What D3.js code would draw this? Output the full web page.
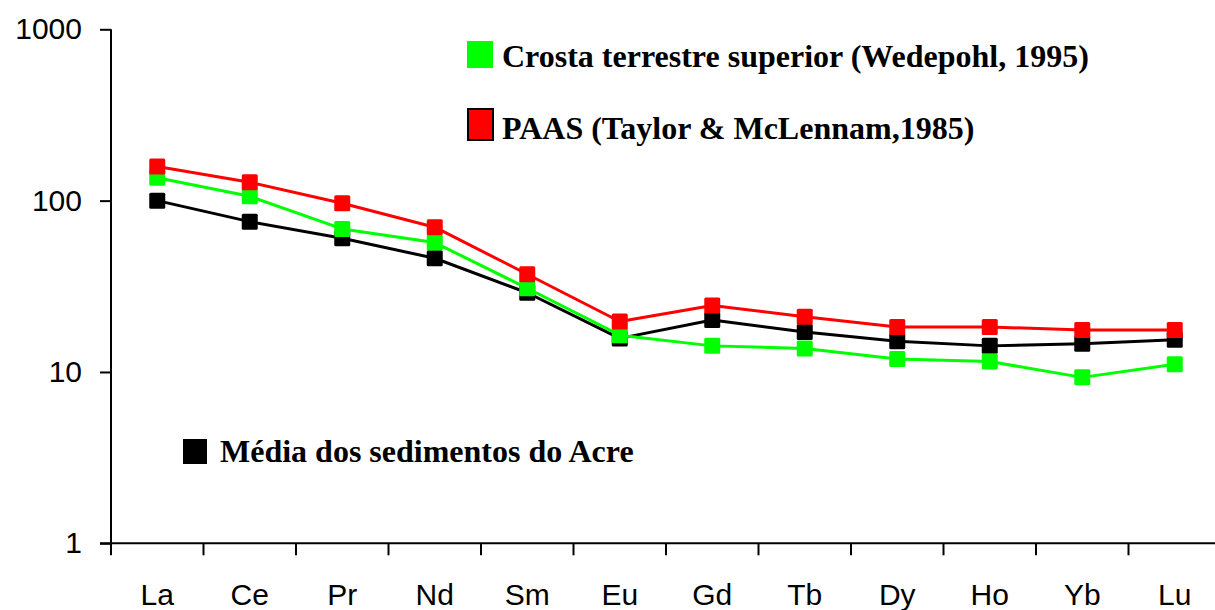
<!DOCTYPE html>
<html>
<head>
<meta charset="utf-8">
<script src="https://cdn.jsdelivr.net/npm/d3@7"></script>
<style>
  html, body { margin: 0; padding: 0; background: #fff; }
  svg { display: block; }
</style>
</head>
<body>
<svg id="chart" width="1215" height="610"></svg>
<script>
// Rare earth elements on the x axis
const elements = ["La", "Ce", "Pr", "Nd", "Sm", "Eu", "Gd", "Tb", "Dy", "Ho", "Yb", "Lu"];

// Chondrite-normalised concentrations
const acreMean  = [100, 75.4, 60.3, 46.1, 29.0, 15.7, 20.1, 17.1, 15.1, 14.2, 14.6, 15.4];
const upperCrust = [136, 106, 68.4, 56.9, 30.8, 16.4, 14.2, 13.7, 11.9, 11.5, 9.3, 11.1];
const paas       = [158, 128, 96.6, 70.0, 37.2, 19.7, 24.4, 21.0, 18.3, 18.3, 17.6, 17.6];

const yTicks = [1, 10, 100, 1000];

const seriesNames = [
  "Média dos sedimentos do Acre",
  "Crosta terrestre superior (Wedepohl, 1995)",
  "PAAS (Taylor & McLennam,1985)"
];

const series = [
  { name: seriesNames[0], values: acreMean,   color: "#000000" },
  { name: seriesNames[1], values: upperCrust, color: "#00ff00" },
  { name: seriesNames[2], values: paas,       color: "#ff0000" }
];

const svg = d3.select("#chart");

const x = d3.scaleBand().domain(elements).range([111, 1221]);
const y = d3.scaleLog().domain([1, 1000]).range([543.3, 29.3]);

const axisFont = "'Liberation Sans', Arial, sans-serif";
const legendFont = "'Liberation Serif', 'Times New Roman', serif";

// y axis
const yAxis = svg.append("g")
  .attr("transform", "translate(111,0)")
  .call(d3.axisLeft(y).tickValues(yTicks).tickFormat(d3.format("d")).tickSize(11).tickPadding(18));
yAxis.select(".domain").attr("stroke", "#000").attr("stroke-width", 2)
  .attr("d", `M0,${y(1000)}V${y(1)}`);
yAxis.selectAll(".tick line").attr("stroke", "#000").attr("stroke-width", 2);
yAxis.selectAll(".tick text").attr("font-family", axisFont).attr("font-size", 30).attr("fill", "#000");

// x axis: labels centred in each band, tick marks at band boundaries
const xAxis = svg.append("g")
  .attr("transform", `translate(0,${y(1)})`)
  .call(d3.axisBottom(x).tickSize(0).tickPadding(40));
xAxis.select(".domain").attr("stroke", "#000").attr("stroke-width", 2)
  .attr("d", `M100,0H1221`);
xAxis.selectAll(".tick text").attr("font-family", axisFont).attr("font-size", 30).attr("fill", "#000");
xAxis.selectAll(".boundary")
  .data(elements)
  .join("line")
  .attr("class", "boundary")
  .attr("x1", d => x(d)).attr("x2", d => x(d))
  .attr("y1", 0).attr("y2", 12)
  .attr("stroke", "#000").attr("stroke-width", 2);

// series lines and square markers
const line = d3.line()
  .x((d, i) => x(elements[i]) + x.bandwidth() / 2)
  .y(d => y(d));

const m = 16;
series.forEach(s => {
  const g = svg.append("g");
  g.append("path")
    .attr("d", line(s.values))
    .attr("fill", "none")
    .attr("stroke", s.color)
    .attr("stroke-width", 3)
    .attr("stroke-linejoin", "round");
  g.selectAll("rect")
    .data(s.values)
    .join("rect")
    .attr("x", (d, i) => x(elements[i]) + x.bandwidth() / 2 - m / 2)
    .attr("y", d => y(d) - m / 2)
    .attr("width", m).attr("height", m)
    .attr("rx", 1.5)
    .attr("fill", s.color);
});

// legend entries
const legend = [
  { s: series[1], box: [467, 41, 26, 27], text: [502, 67], outline: false },
  { s: series[2], box: [468, 109, 25, 31], text: [502, 139], outline: true },
  { s: series[0], box: [183, 439, 24, 25], text: [220, 462], outline: false }
];
const lg = svg.append("g");
legend.forEach(e => {
  lg.append("rect")
    .attr("x", e.box[0]).attr("y", e.box[1])
    .attr("width", e.box[2]).attr("height", e.box[3])
    .attr("fill", e.s.color)
    .attr("stroke", e.outline ? "#000" : "none")
    .attr("stroke-width", e.outline ? 2 : 0);
  lg.append("text")
    .attr("x", e.text[0]).attr("y", e.text[1])
    .attr("font-family", legendFont)
    .attr("font-weight", "bold")
    .attr("font-size", 32)
    .attr("fill", "#000")
    .text(e.s.name);
});
</script>
</body>
</html>
